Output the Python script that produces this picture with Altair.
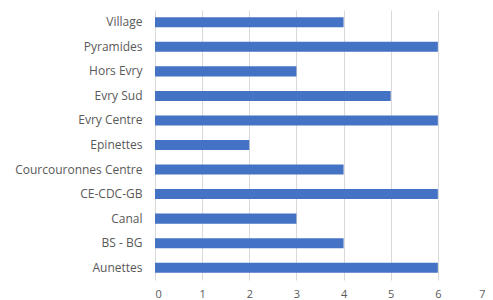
import altair as alt
import pandas as pd

categories = ["Village", "Pyramides", "Hors Evry", "Evry Sud", "Evry Centre", "Epinettes",
              "Courcouronnes Centre", "CE-CDC-GB", "Canal", "BS - BG", "Aunettes"]
values = [4, 6, 3, 5, 6, 2, 4, 6, 3, 4, 6]

df = pd.DataFrame({"cat": categories, "val": values})

chart = alt.Chart(df).mark_bar(color="#4472C4").encode(
    x=alt.X("val:Q", scale=alt.Scale(domain=[0, 7], nice=False),
            axis=alt.Axis(title=None, values=[0, 1, 2, 3, 4, 5, 6, 7], domain=False, ticks=False,
                          grid=True, gridColor="#d9d9d9", gridWidth=1,
                          labelColor="#595959", labelFontSize=11, labelFont="Open Sans",
                          labelPadding=8)),
    y=alt.Y("cat:N", sort=categories,
            scale=alt.Scale(paddingInner=0.59, paddingOuter=0.295),
            axis=alt.Axis(title=None, domain=False, ticks=False, labelColor="#595959",
                          labelFontSize=12, labelFont="Open Sans", labelPadding=13)),
).properties(
    width=330, height=270,
    autosize=alt.AutoSizeParams(type="none"),
    padding={"left": 147, "top": 2, "right": 0, "bottom": 22},
).configure_view(stroke=None)

chart.save("out.html", embed_options={"renderer": "svg", "actions": False})
